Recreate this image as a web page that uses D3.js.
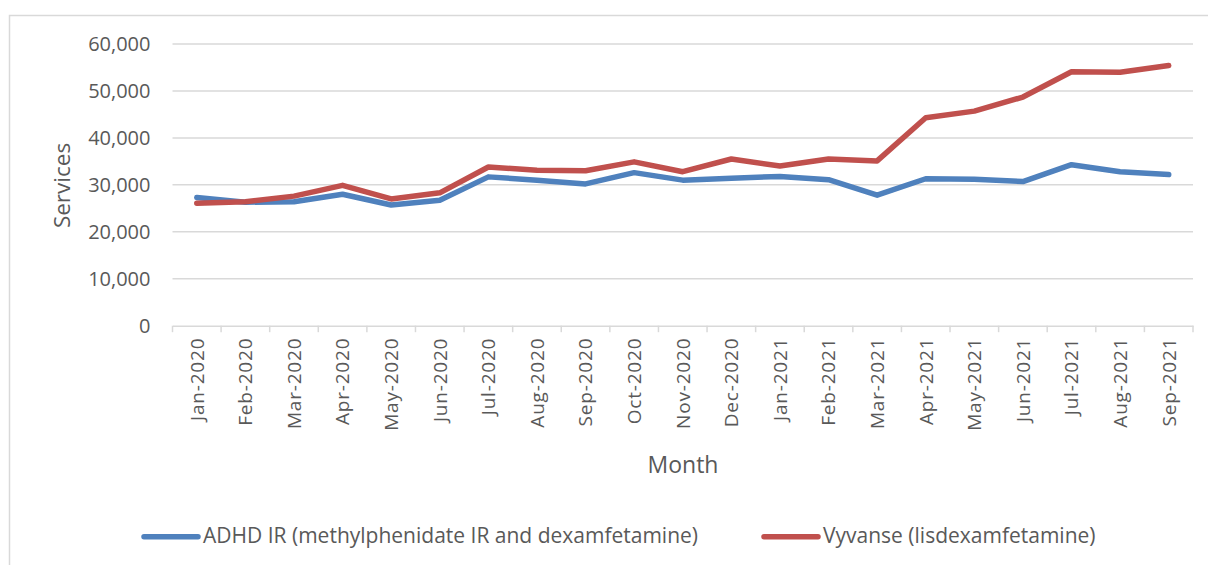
<!DOCTYPE html>
<html>
<head>
<meta charset="utf-8">
<script src="https://cdn.jsdelivr.net/npm/d3@7"></script>
<style>
  html, body { margin: 0; padding: 0; background: #fff; }
  svg { display: block; }
  text { font-family: "Open Sans", sans-serif; fill: #595959; }
</style>
</head>
<body>
<svg id="chart" width="1208" height="565"></svg>
<script>
const months = ["Jan-2020","Feb-2020","Mar-2020","Apr-2020","May-2020","Jun-2020","Jul-2020","Aug-2020","Sep-2020","Oct-2020","Nov-2020","Dec-2020","Jan-2021","Feb-2021","Mar-2021","Apr-2021","May-2021","Jun-2021","Jul-2021","Aug-2021","Sep-2021"];
const adhdIR = [27300,26300,26400,28000,25700,26700,31700,31000,30200,32600,31000,31400,31800,31100,27800,31300,31200,30700,34300,32800,32200];
const vyvanse = [26100,26400,27600,29900,27000,28300,33800,33100,33000,34900,32800,35500,34000,35500,35100,44300,45700,48700,54100,54000,55400];
const yTicks = [0,10000,20000,30000,40000,50000,60000];
const seriesNames = ["ADHD IR (methylphenidate IR and dexamfetamine)", "Vyvanse (lisdexamfetamine)"];
const seriesColors = ["#4F81BD", "#C0504D"];

const svg = d3.select("#chart");
const plotL = 172.5, plotR = 1193, plotT = 44, plotB = 325.7;

// outer border
svg.append("rect").attr("x", 9.5).attr("y", 15.5).attr("width", 1300).attr("height", 700)
  .attr("fill", "none").attr("stroke", "#D9D9D9").attr("stroke-width", 1.5);

const x = d3.scaleBand().domain(months).range([plotL, plotR]).padding(0);
const y = d3.scaleLinear().domain([0, 60000]).range([plotB, plotT]);

// gridlines
svg.append("g").selectAll("line").data(yTicks.filter(d => d > 0)).join("line")
  .attr("x1", plotL).attr("x2", plotR)
  .attr("y1", d => y(d)).attr("y2", d => y(d))
  .attr("stroke", "#D9D9D9").attr("stroke-width", 1.5);

// y axis labels
const yAxis = svg.append("g").attr("transform", `translate(${plotL},0)`)
  .call(d3.axisLeft(y).tickValues(yTicks).tickFormat(d3.format(",")).tickSize(0).tickPadding(22));
yAxis.select(".domain").remove();
yAxis.selectAll("text").style("font-family", "Open Sans").style("font-size", "20px").attr("fill", "#595959");

// x axis
const xAxis = svg.append("g").attr("transform", `translate(0,${plotB})`)
  .call(d3.axisBottom(x).tickSize(0).tickPadding(0));
xAxis.select(".domain").attr("stroke", "#D9D9D9").attr("stroke-width", 1.5);
xAxis.selectAll("text")
  .style("font-family", "Open Sans").style("font-size", "19px").style("letter-spacing", "0.8px")
  .attr("fill", "#595959")
  .attr("text-anchor", "end")
  .attr("transform", "rotate(-90)")
  .attr("x", -12).attr("y", 0).attr("dy", "0.36em");
// category boundary ticks
const bounds = months.map(m => x(m)).concat([plotR]);
svg.append("g").selectAll("line").data(bounds).join("line")
  .attr("x1", d => d).attr("x2", d => d)
  .attr("y1", plotB).attr("y2", plotB + 6.5)
  .attr("stroke", "#D9D9D9").attr("stroke-width", 1.5);

// lines
const line = d3.line().x((d, i) => x(months[i]) + x.bandwidth() / 2).y(d => y(d));
[adhdIR, vyvanse].forEach((s, k) => {
  svg.append("path").datum(s).attr("d", line)
    .attr("fill", "none").attr("stroke", seriesColors[k]).attr("stroke-width", 5.5)
    .attr("stroke-linecap", "round").attr("stroke-linejoin", "round");
});

// axis titles
svg.append("text").attr("x", 683).attr("y", 473).attr("text-anchor", "middle")
  .style("font-size", "23px").text("Month");
svg.append("text").attr("transform", "translate(70,185.5) rotate(-90)").attr("text-anchor", "middle")
  .style("font-size", "22.5px").text("Services");

// legend
const legendX = [144, 764];
seriesNames.forEach((n, k) => {
  const g = svg.append("g");
  g.append("line").attr("x1", legendX[k]).attr("x2", legendX[k] + 54)
    .attr("y1", 536.7).attr("y2", 536.7)
    .attr("stroke", seriesColors[k]).attr("stroke-width", 5.5).attr("stroke-linecap", "round");
  g.append("text").attr("x", legendX[k] + 59).attr("y", 543)
    .style("font-size", "21px").text(n);
});
</script>
</body>
</html>
